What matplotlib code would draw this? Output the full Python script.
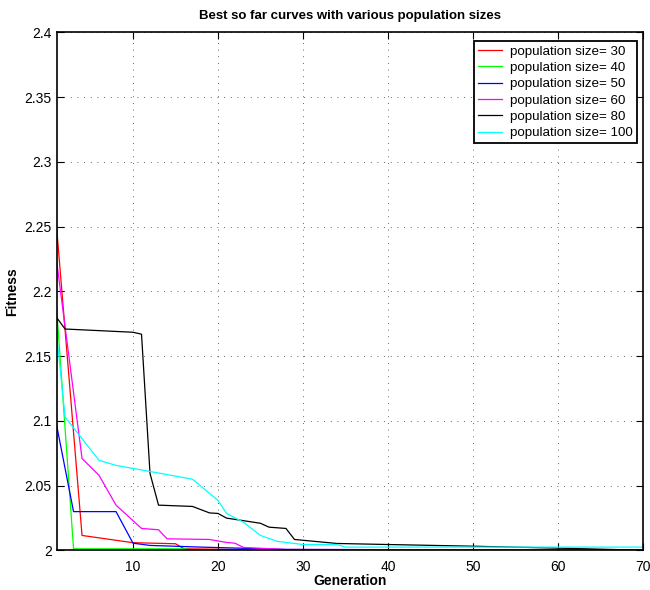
import matplotlib
matplotlib.use("Agg")
import matplotlib.pyplot as plt

plt.rcParams['font.family'] = ['Liberation Sans', 'DejaVu Sans']

# best-so-far breakpoints (generation, fitness)
gen30 = [1, 4, 10, 15, 16, 25, 70]
fit30 = [2.25, 2.0116, 2.006, 2.0052, 2.0013, 2.0005, 2.0001]

gen40 = [1, 3, 16, 17, 70]
fit40 = [2.188, 2.0013, 2.0013, 2.0005, 2.0001]

gen50 = [1, 3, 8, 10, 12, 18, 28, 70]
fit50 = [2.097, 2.030, 2.030, 2.0056, 2.0039, 2.0026, 2.0008, 2.0002]

gen60 = [1, 4, 6, 8, 11, 13, 14, 19, 21, 22, 23, 28, 70]
fit60 = [2.224, 2.071, 2.058, 2.035, 2.017, 2.016, 2.009, 2.0085, 2.0062,
         2.0056, 2.0023, 2.0008, 2.0002]

gen80 = [1, 2, 10, 11, 12, 13, 17, 19, 20, 21, 25, 26, 28, 29, 34, 40, 50, 60, 70]
fit80 = [2.18, 2.171, 2.1685, 2.167, 2.0595, 2.035, 2.034, 2.029, 2.0286,
         2.025, 2.021, 2.018, 2.017, 2.0085, 2.0054, 2.0046, 2.0033, 2.0018,
         2.0002]

gen100 = [1, 2, 6, 8, 12, 17, 20, 21, 23, 25, 27, 30, 34, 35, 70]
fit100 = [2.168, 2.103, 2.0696, 2.0657, 2.061, 2.055, 2.0386, 2.0286, 2.0218,
          2.0116, 2.007, 2.0046, 2.0046, 2.0026, 2.0026]

series = [
    (gen30, fit30, 'red', 'population size= 30'),
    (gen40, fit40, '#00ff00', 'population size= 40'),
    (gen50, fit50, 'blue', 'population size= 50'),
    (gen60, fit60, 'magenta', 'population size= 60'),
    (gen80, fit80, 'black', 'population size= 80'),
    (gen100, fit100, 'cyan', 'population size= 100'),
]

fig = plt.figure(figsize=(6.5, 5.9), dpi=100)
ax = fig.add_axes([0.087, 0.067, 0.902, 0.878])

for g, f, c, lab in series:
    ax.plot(g, f, color=c, lw=0.9, label=lab)

ax.set_xlim(1, 70)
ax.set_ylim(2.0, 2.4)
ax.set_xticks([10, 20, 30, 40, 50, 60, 70])
ax.set_yticks([2.0, 2.05, 2.1, 2.15, 2.2, 2.25, 2.3, 2.35, 2.4])
ax.set_yticklabels(['2', '2.05', '2.1', '2.15', '2.2', '2.25', '2.3', '2.35', '2.4'])
ax.tick_params(direction='in', top=True, right=True, labelsize=10, length=5)
ax.tick_params(axis='x', pad=7)
ax.grid(True, linestyle=(0, (1, 7)), color='#333333', lw=0.6)
for s in ax.spines.values():
    s.set_linewidth(1.2)

ax.set_title('Best so far curves with various population sizes', fontsize=9.5,
             fontweight='bold', pad=10)
ax.set_xlabel('Generation', fontsize=10, fontweight='bold', labelpad=0)
ax.set_ylabel('Fitness', fontsize=10, fontweight='bold', labelpad=4)

leg = ax.legend(loc='upper right', bbox_to_anchor=(0.99, 0.983), borderaxespad=0,
                fontsize=9.6, fancybox=False, framealpha=1, edgecolor='black',
                handlelength=1.8, handletextpad=0.6, labelspacing=0.3,
                borderpad=0.3)
leg.get_frame().set_linewidth(1.3)

fig.savefig('out.png', dpi=100)
